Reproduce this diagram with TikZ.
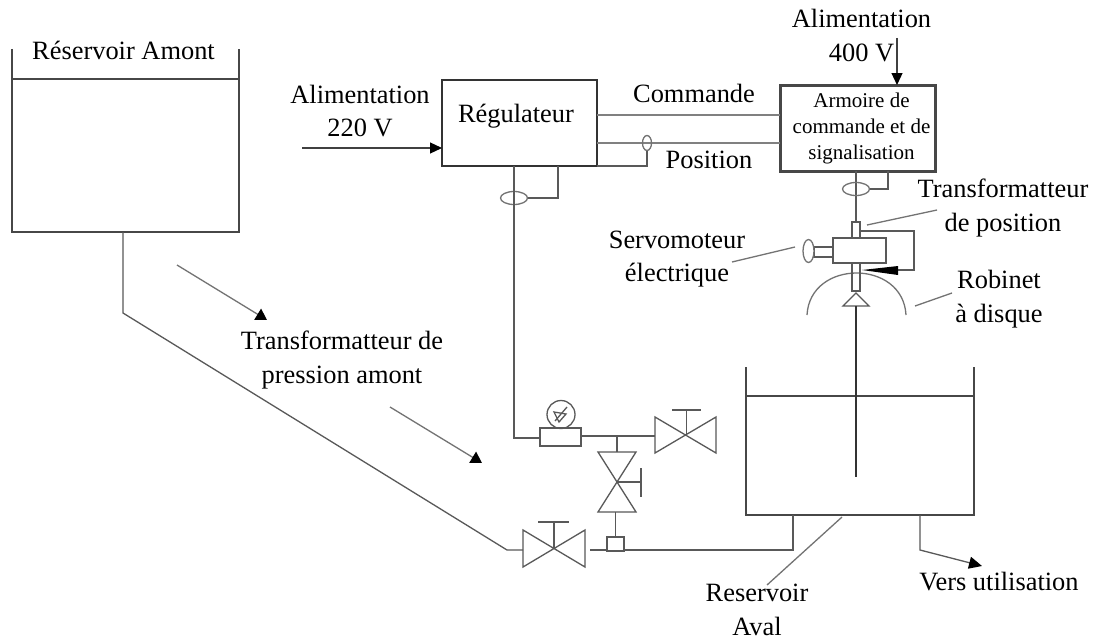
\documentclass[tikz,border=0pt]{standalone}
\usepackage{fontspec}
\setmainfont{Liberation Serif}
\usetikzlibrary{arrows.meta,shapes.geometric}
\tikzset{
  pipe/.style={draw=black!65,line width=1.3pt},
  thickwall/.style={draw=black!72,line width=2.6pt},
  signal/.style={draw=black!50,line width=2.6pt},
  lead/.style={draw=black!55,line width=1.3pt},
  flow/.style={draw=black!55,line width=1.3pt,-{Triangle[length=11pt,width=13pt,color=black]}},
  feed/.style={draw=black!75,line width=1.2pt,-{Triangle[length=12pt,width=11pt,color=black]}},
  lbl/.style={font=\fontsize{26.4}{33.5}\selectfont,inner sep=0pt,align=center,text=black},
  small lbl/.style={font=\fontsize{21}{26}\selectfont,inner sep=0pt,align=center,text=black},
  bx/.style={draw=black!65,line width=1.3pt,inner sep=0pt,fill=white},
  ell/.style={draw=black!55,line width=1.3pt,ellipse,inner sep=0pt},
}
\begin{document}
\begin{tikzpicture}[x=1pt,y=-1pt]
\useasboundingbox[fill=white] (0,0) rectangle (1099,642);
% Upstream tank
\coordinate (t1a) at (12,49); \coordinate (t1b) at (12,232); \coordinate (t1c) at (239,232); \coordinate (t1d) at (239,49);
\draw[thickwall] (t1a) -- (t1b) -- (t1c) -- (t1d);
\coordinate (w1a) at (12,79); \coordinate (w1b) at (239,79);
\draw[thickwall] (w1a) -- (w1b);
\node[lbl] (ra) at (123.5,50) {Réservoir Amont};
% Downstream tank
\coordinate (t2a) at (746,367); \coordinate (t2b) at (746,515); \coordinate (t2c) at (974,515); \coordinate (t2d) at (974,367);
\draw[thickwall] (t2a) -- (t2b) -- (t2c) -- (t2d);
\coordinate (w2a) at (746,396); \coordinate (w2b) at (974,396);
\draw[thickwall] (w2a) -- (w2b);
% Regulator
\node[draw=black!80,line width=2.8pt,minimum width=155pt,minimum height=86pt,inner sep=0pt] (reg) at (519.5,123) {};
\node[lbl] (regt) at (516,116) {Régulateur};
% Cabinet
\node[draw=black!72,line width=3pt,minimum width=155pt,minimum height=86pt,inner sep=0pt] (arm) at (857.5,128) {};
\node[small lbl] (armt) at (861.5,128) {Armoire de\\commande et de\\signalisation};
% signal lines
\coordinate (cmdA) at (597,115); \coordinate (cmdB) at (780,115);
\coordinate (posA) at (597,143); \coordinate (posB) at (780,143);
\draw[signal] (cmdA) -- (cmdB);
\draw[signal] (posA) -- (posB);
\node[ell,minimum width=9pt,minimum height=15pt] (e1) at (647,143) {};
\coordinate (e1b) at (647,166); \coordinate (reg1) at (597,166);
\draw[pipe] (e1) -- (e1b) -- (reg1);
\node[lbl] (cmd) at (694,93) {Commande};
\node[lbl] (pos) at (709,160) {Position};
% Regulator pressure line
\coordinate (r1) at (514,166); \coordinate (r2) at (514,438);
\node[ell,minimum width=27pt,minimum height=13pt] (e2) at (514,198) {};
\coordinate (e2a) at (558,166); \coordinate (e2b) at (558,198);
\draw[pipe] (e2a) -- (e2b) -- (e2);
% cabinet stem
\coordinate (a1) at (856,171); \coordinate (a2) at (856,222);
\draw[pipe] (a1) -- (a2);
\node[ell,minimum width=27pt,minimum height=13pt] (e3) at (856,189) {};
\coordinate (a3) at (888,171); \coordinate (a4) at (888,189);
\draw[pipe] (a3) -- (a4) -- (e3);
% actuator
\node[bx,minimum width=8pt,minimum height=16pt] (tp) at (856,230) {};
\node[bx,minimum width=53pt,minimum height=25pt] (act) at (859.5,250.5) {};
\node[bx,minimum width=19pt,minimum height=10pt] (shaft) at (823.5,252) {};
\node[ell,minimum width=11pt,minimum height=23pt,fill=white] (mot) at (808.5,251) {};
\coordinate (fb1) at (860,231); \coordinate (fb2) at (914,231); \coordinate (fb3) at (914,270); \coordinate (fb4) at (898,270);
\draw[pipe] (fb1) -- (fb2) -- (fb3) -- (fb4);
\coordinate (arcL) at (807,315); \coordinate (arcR) at (906,315);
\draw[pipe,draw=black!55] (arcL) .. controls (810,259) and (903,259) .. (arcR);
\node[bx,minimum width=8pt,minimum height=28pt,fill=none] (stem) at (856,277) {};
\fill[black] (898,266) -- (898,275) -- (862,270) -- cycle;
\coordinate (tv1) at (856,293); \coordinate (tv2) at (843,306); \coordinate (tv3) at (869,306);
\draw[pipe] (tv1) -- (tv2) -- (tv3) -- cycle;
\coordinate (sp1) at (856,306); \coordinate (sp2) at (856,477);
\draw[draw=black!80,line width=2pt] (sp1) -- (sp2);
% leader lines
\coordinate (l1a) at (867,225); \coordinate (l1b) at (937,210);
\draw[lead] (l1a) -- (l1b);
\coordinate (l2a) at (732,262); \coordinate (l2b) at (795,247);
\draw[lead] (l2a) -- (l2b);
\coordinate (l3a) at (915,306); \coordinate (l3b) at (952,293);
\draw[lead] (l3a) -- (l3b);
\coordinate (l4a) at (842,517); \coordinate (l4b) at (767,585);
\draw[lead] (l4a) -- (l4b);
% outlet
\coordinate (o1) at (920,515); \coordinate (o2) at (920,550); \coordinate (o3) at (982,566);
\draw[pipe,-{Triangle[length=13pt,width=12pt,color=black]}] (o1) -- (o2) -- (o3);
% labels
\node[lbl] (a400) at (861.5,35.5) {Alimentation\\400 V};
\coordinate (p400a) at (897,38); \coordinate (p400b) at (897,85);
\draw[feed] (p400a) -- (p400b);
\node[lbl] (a220) at (360,111) {Alimentation\\220 V};
\coordinate (p220a) at (302,148); \coordinate (p220b) at (442,148);
\draw[feed] (p220a) -- (p220b);
\node[lbl] (tp2) at (1003,208) {Transformatteur\\de position};
\node[lbl] (sm) at (677,259) {Servomoteur\\électrique};
\node[lbl] (rd) at (999,299) {Robinet\\à disque};
\node[lbl] (tpa) at (342,360) {Transformatteur de\\pression amont};
\node[lbl] (av) at (757,610) {Reservoir\\Aval};
\node[lbl] (vu) at (999,582) {Vers utilisation};
% flow arrows
\coordinate (f1a) at (177,265); \coordinate (f1b) at (267,320);
\draw[flow] (f1a) -- (f1b);
\coordinate (f2a) at (390,407); \coordinate (f2b) at (482,463);
\draw[flow] (f2a) -- (f2b);
% piping
\coordinate (p1) at (123,232); \coordinate (p2) at (123,313); \coordinate (p3) at (507,550); \coordinate (p4) at (523,550);
\draw[pipe] (p1) -- (p2) -- (p3) -- (p4);
% bottom valve
\coordinate (b1) at (523,530); \coordinate (b2) at (585,567); \coordinate (b3) at (585,530); \coordinate (b4) at (523,567);
\draw[pipe] (b1) -- (b2) -- (b3) -- (b4) -- cycle;
\coordinate (v1m) at (554,548); \coordinate (v1t) at (554,522);
\draw[pipe] (v1m) -- (v1t);
\coordinate (v1hl) at (538,522); \coordinate (v1hr) at (569,522);
\draw[pipe] (v1hl) -- (v1hr);
\coordinate (v1r) at (590,550); \coordinate (m1) at (793,550); \coordinate (m2) at (793,515);
\draw[pipe] (v1r) -- (m1) -- (m2);
\node[bx,minimum width=17pt,minimum height=14pt] (tee) at (615.5,544) {};
% vertical valve
\coordinate (c1) at (598,452); \coordinate (c2) at (636,452); \coordinate (c3) at (598,512); \coordinate (c4) at (636,512);
\draw[pipe] (c1) -- (c2) -- (c3) -- (c4) -- cycle;
\coordinate (vm) at (617,482); \coordinate (vh) at (641,482);
\draw[pipe] (vm) -- (vh);
\coordinate (vh1) at (641,468); \coordinate (vh2) at (641,497);
\draw[pipe] (vh1) -- (vh2);
\coordinate (cb) at (615.5,512);
\draw[pipe] (cb) -- (tee.north);
% upper branch
\node[bx,minimum width=41pt,minimum height=18pt] (tr) at (560.5,437) {};
\draw[pipe] (r1) -- (r2) -- (tr.west |- r2);
\node[draw=black!65,line width=1.3pt,circle,minimum size=28pt,inner sep=0pt] (ga) at (561,414.5) {};
\coordinate (g1) at (555,421); \coordinate (g2) at (567,407); \coordinate (g3) at (554,412); \coordinate (g4) at (566,414);
\draw[pipe] (g1) -- (g2);
\draw[pipe] (g3) -- (g4) -- (559,422) -- cycle;
\coordinate (br) at (655,436); \coordinate (brv) at (617,436); \coordinate (brv2) at (617,452);
\draw[pipe] (tr.east |- br) -- (br);
\draw[pipe] (brv) -- (brv2);
\coordinate (d1) at (655,417); \coordinate (d2) at (716,453); \coordinate (d3) at (716,417); \coordinate (d4) at (655,453);
\draw[pipe] (d1) -- (d2) -- (d3) -- (d4) -- cycle;
\coordinate (dm) at (686.5,434); \coordinate (dt) at (686.5,410);
\draw[pipe] (dm) -- (dt);
\coordinate (dhl) at (672,410); \coordinate (dhr) at (701,410);
\draw[pipe] (dhl) -- (dhr);
\end{tikzpicture}
\end{document}
